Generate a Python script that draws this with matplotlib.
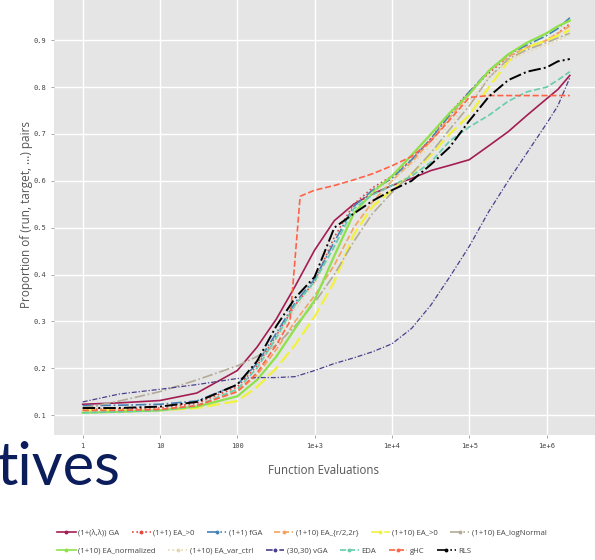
import matplotlib
matplotlib.use("Agg")
import matplotlib.pyplot as plt
from matplotlib.lines import Line2D
import numpy as np

# DATA
evals = [1, 3, 10, 30, 100, 180, 320, 560, 1e3, 1.8e3, 3.2e3, 5.6e3, 1e4, 1.8e4,
         3.2e4, 5.6e4, 1e5, 1.8e5, 3.2e5, 5.6e5, 1e6, 1.4e6, 2e6]
ghc_evals = [1, 3, 10, 30, 100, 180, 320, 480, 650, 1e3, 1.8e3, 3.2e3, 5.6e3, 1e4,
             1.8e4, 3.2e4, 5.6e4, 1e5, 1.8e5, 3.2e5, 5.6e5, 1e6, 2e6]

ga_ll = [0.123, 0.126, 0.131, 0.147, 0.195, 0.245, 0.305, 0.375, 0.452, 0.515, 0.55, 0.572,
         0.59, 0.605, 0.622, 0.633, 0.645, 0.675, 0.705, 0.74, 0.775, 0.795, 0.825]
ea_gt0 = [0.112, 0.113, 0.115, 0.125, 0.16, 0.205, 0.27, 0.335, 0.385, 0.48, 0.55, 0.585,
          0.61, 0.645, 0.69, 0.745, 0.79, 0.83, 0.865, 0.885, 0.9, 0.915, 0.935]
fga = [0.12, 0.121, 0.123, 0.13, 0.165, 0.21, 0.275, 0.34, 0.39, 0.47, 0.545, 0.58,
       0.605, 0.645, 0.69, 0.74, 0.79, 0.835, 0.87, 0.89, 0.91, 0.925, 0.948]
ea10_r2r = [0.11, 0.11, 0.112, 0.12, 0.15, 0.185, 0.24, 0.3, 0.355, 0.42, 0.5, 0.555,
            0.6, 0.64, 0.685, 0.735, 0.785, 0.835, 0.865, 0.885, 0.9, 0.915, 0.93]
ea10_gt0 = [0.11, 0.11, 0.11, 0.115, 0.13, 0.16, 0.2, 0.25, 0.31, 0.385, 0.485, 0.545,
            0.58, 0.615, 0.655, 0.7, 0.74, 0.8, 0.855, 0.885, 0.9, 0.91, 0.922]
ea10_lognormal = [0.115, 0.13, 0.15, 0.175, 0.205, 0.225, 0.25, 0.29, 0.34, 0.4, 0.47, 0.53,
                  0.575, 0.615, 0.66, 0.71, 0.76, 0.82, 0.86, 0.88, 0.895, 0.905, 0.915]
ea10_normalized = [0.105, 0.107, 0.11, 0.118, 0.14, 0.175, 0.225, 0.285, 0.345, 0.44, 0.53, 0.575,
                   0.61, 0.655, 0.7, 0.745, 0.785, 0.835, 0.87, 0.895, 0.915, 0.93, 0.942]
ea10_varctrl = [0.108, 0.11, 0.112, 0.12, 0.155, 0.2, 0.26, 0.325, 0.38, 0.46, 0.54, 0.575,
                0.6, 0.635, 0.675, 0.72, 0.77, 0.82, 0.855, 0.875, 0.89, 0.9, 0.912]
vga = [0.128, 0.145, 0.155, 0.165, 0.178, 0.18, 0.18, 0.182, 0.195, 0.21, 0.222, 0.235,
       0.252, 0.285, 0.335, 0.395, 0.46, 0.535, 0.6, 0.66, 0.722, 0.76, 0.82]
eda = [0.105, 0.107, 0.11, 0.12, 0.155, 0.2, 0.265, 0.335, 0.385, 0.46, 0.54, 0.57,
       0.59, 0.61, 0.64, 0.685, 0.715, 0.74, 0.77, 0.79, 0.8, 0.815, 0.833]
ghc = [0.11, 0.11, 0.112, 0.12, 0.15, 0.19, 0.25, 0.30, 0.567, 0.58, 0.59, 0.602,
       0.615, 0.632, 0.652, 0.685, 0.73, 0.778, 0.782, 0.782, 0.782, 0.782, 0.782]
rls = [0.115, 0.115, 0.118, 0.128, 0.165, 0.215, 0.29, 0.35, 0.395, 0.5, 0.53, 0.557,
       0.58, 0.6, 0.635, 0.672, 0.728, 0.78, 0.815, 0.833, 0.842, 0.855, 0.86]

names = ['(1+(λ,λ)) GA', '(1+1) EA_>0', '(1+1) fGA', '(1+10) EA_{r/2,2r}', '(1+10) EA_>0',
         '(1+10) EA_logNormal', '(1+10) EA_normalized', '(1+10) EA_var_ctrl', '(30,30) vGA',
         'EDA', 'gHC', 'RLS']
xtick_vals = [1, 10, 100, 1e3, 1e4, 1e5, 1e6]
xtick_labels = ['1', '10', '100', '1e+3', '1e+4', '1e+5', '1e+6']
ytick_vals = [0.1, 0.2, 0.3, 0.4, 0.5, 0.6, 0.7, 0.8, 0.9]

series = [ga_ll, ea_gt0, fga, ea10_r2r, ea10_gt0, ea10_lognormal, ea10_normalized,
          ea10_varctrl, vga, eda, ghc, rls]
xs = [evals] * 10 + [ghc_evals, evals]
colors = ['#a31d52', '#e8473f', '#4682b4', '#f4a460', '#f2f23c', '#b3ab98',
          '#8de24a', '#e3d9b0', '#4a3f8c', '#66cdaa', '#ff6347', '#000000']
styles = ['-', ':', '-.', '--', (0, (6, 2)), '-.', '-', ':', (0, (4, 1.5, 1, 1.5)),
          '--', '--', '-.']
widths = [1.2, 1.2, 1.2, 1.2, 1.6, 1.2, 1.6, 1.2, 0.9, 1.2, 1.2, 1.4]

fig = plt.figure(figsize=(5.95, 5.6), dpi=100)
ax = fig.add_axes([54 / 595, 125 / 560, 541 / 595, 435 / 560])
ax.set_facecolor('#e5e5e5')

for x, y, c, ls, lw in zip(xs, series, colors, styles, widths):
    ax.plot(x, y, color=c, linestyle=ls, linewidth=lw)

ax.set_xscale('log')
ax.set_xlim(10 ** -0.371, 10 ** 6.627)
ax.set_ylim(0.0574, 0.986)
ax.set_xticks(xtick_vals)
ax.set_xticklabels(xtick_labels)
ax.minorticks_off()
ax.set_yticks(ytick_vals)
ax.set_yticklabels(['%.1f' % v for v in ytick_vals])
ax.grid(True, color='white', linewidth=1)
ax.set_axisbelow(True)
for s in ax.spines.values():
    s.set_visible(False)
ax.tick_params(length=2.5, width=0.6, color='#999999', labelsize=5, labelcolor='#444444', pad=3)
for lab in ax.get_xticklabels() + ax.get_yticklabels():
    lab.set_family('DejaVu Sans Mono')

fig.text(27 / 595, (560 - 214) / 560, 'Proportion of (run, target, ...) pairs', rotation=90,
         ha='center', va='center', fontsize=8.5, color='#555555', family='Open Sans')
fig.text(324 / 595, (560 - 471) / 560, 'Function Evaluations', ha='center', va='center',
         fontsize=8.3, color='#555555', family='Open Sans')

# leftover slide title text
fig.text(-3 / 595, (560 - 485) / 560, 'tives', ha='left', va='baseline', fontsize=43,
         color='#0c1d5c', family='Lato')

handles = [Line2D([], [], color=c, linestyle=ls, linewidth=1.2, marker='o', markersize=1.8)
           for c, ls in zip(colors, styles)]
for row, ypx in [(0, 533), (1, 551)]:
    h = handles[row * 6:(row + 1) * 6]
    l = names[row * 6:(row + 1) * 6]
    fig.legend(h, l, ncol=6, loc='center left', bbox_to_anchor=(57 / 595, (560 - ypx) / 560),
               frameon=False, borderpad=0, borderaxespad=0, handlelength=2.4,
               handletextpad=0.35, columnspacing=1.6, numpoints=1,
               prop={'family': 'Open Sans', 'size': 5.6}, labelcolor='#444444')

fig.savefig('out.png', dpi=100)
